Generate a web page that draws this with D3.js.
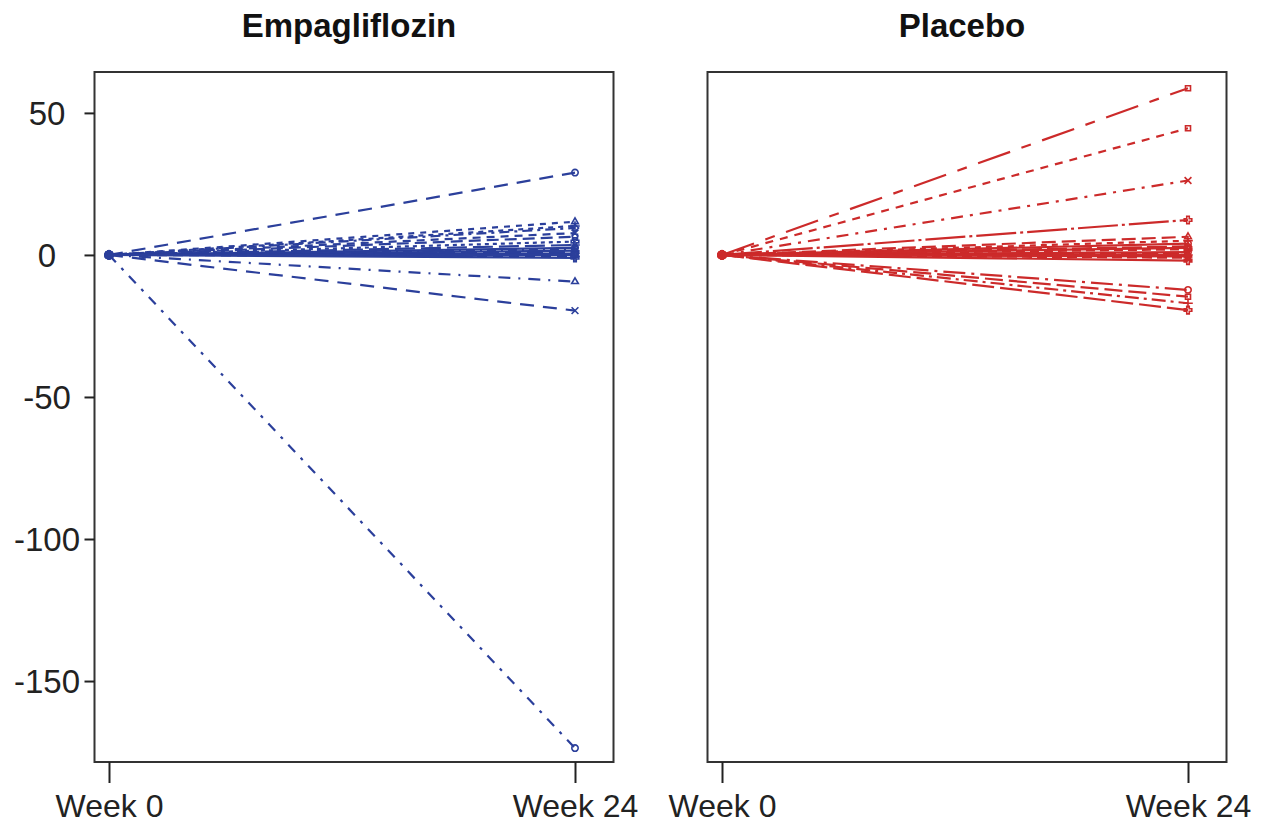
<!DOCTYPE html>
<html>
<head>
<meta charset="utf-8">
<script src="https://cdn.jsdelivr.net/npm/d3@7"></script>
<style>
  body { margin: 0; background: #fff; }
  text { font-family: "Liberation Sans", Arial, sans-serif; }
</style>
</head>
<body>
<svg id="chart" width="1273" height="825"></svg>
<script>
// change from week 0 to week 24, one value per patient
let weeks = [0, 24];
let yTicks = [50, 0, -50, -100, -150];
let empaWeek24 = [29, 11.7, 10.2, 9.5, 7.7, 6.4, 4.7, 3.5, 2.5, 2, 1.5, 1, 0.5, 0, 0, -0.5, -1, -9.4, -19.6, -173.6];
let placeboWeek24 = [58.7, 44.6, 26.2, 12.3, 6.4, 5, 4, 3, 2.5, 2, 1, 0.5, 0, 0, -0.5, -1, -2, -12.3, -14.7, -17, -19.4];

// line patterns + end symbols (styles only)
let empaDash = ['14,9', '6,6', '5,5', '10,5,3,5', '8,6', '12,6', '4,4', '20,6', '', '9,5,2,5', '', '16,6', '', '6,4', '', '10,6', '', '12,8,2,8', '14,9', '10,8,3,8'];
let empaSym = [0, 5, 2, 6, 4, 1, 3, 2, 0, 1, 4, 3, 6, 0, 1, 2, 3, 5, 4, 0];
let placeboDash = ['34,12,10,12', '8,7', '12,7,3,7', '40,4,3,4', '14,6', '6,5', '', '20,5', '', '9,5', '', '16,5', '', '5,4', '', '10,5', '', '22,6,3,6', '18,6', '14,5,3,5', '22,6'];
let placeboSym = [1, 1, 4, 3, 5, 2, 0, 6, 1, 3, 0, 4, 2, 5, 6, 1, 3, 0, 1, 2, 3];

let symbolTypes = [d3.symbolCircle, d3.symbolSquare2, d3.symbolPlus, d3.symbolCross, d3.symbolTimes, d3.symbolTriangle2, d3.symbolDiamond2];

let svg = d3.select('#chart');

let plotTop = 72, plotBottom = 762;
let panelW = 519;

let y = d3.scaleLinear().domain([-178.5, 64.4]).range([plotBottom, plotTop]);

let panels = [
  { title: 'Empagliflozin', vals: empaWeek24, dash: empaDash, sym: empaSym, color: '#2b3f9b', left: 94.5, yAxis: true },
  { title: 'Placebo', vals: placeboWeek24, dash: placeboDash, sym: placeboSym, color: '#cc2a2a', left: 707.5, yAxis: false }
];

panels.forEach(function(p) {
  let x = d3.scaleLinear().domain([0, 24]).range([p.left + 14.5, p.left + panelW - 38.5]);
  let g = svg.append('g');

  let rows = p.vals.map((v, i) => ({ pts: [[0, 0], [24, v]], dash: p.dash[i], sym: p.sym[i] }));

  let line = d3.line().x(d => x(d[0])).y(d => y(d[1]));

  g.selectAll('path.subj')
    .data(rows)
    .enter()
    .append('path')
    .attr('class', 'subj')
    .attr('d', d => line(d.pts))
    .attr('fill', 'none')
    .attr('stroke', p.color)
    .attr('stroke-width', 2.2)
    .attr('stroke-dasharray', d => d.dash || null);

  // end point symbols
  rows.forEach(function(r) {
    r.pts.forEach(function(pt) {
      g.append('path')
        .attr('d', d3.symbol().type(symbolTypes[r.sym]).size(32)())
        .attr('transform', `translate(${x(pt[0])},${y(pt[1])})`)
        .attr('fill', 'none')
        .attr('stroke', p.color)
        .attr('stroke-width', 1.6);
    });
  });

  // frame
  g.append('rect')
    .attr('x', p.left)
    .attr('y', plotTop)
    .attr('width', panelW)
    .attr('height', plotBottom - plotTop)
    .attr('fill', 'none')
    .attr('stroke', '#333')
    .attr('stroke-width', 2);

  let xAxis = g.append('g')
    .attr('transform', `translate(0,${plotBottom})`)
    .call(d3.axisBottom(x).tickValues(weeks).tickSize(21).tickFormat(d => 'Week ' + d));
  xAxis.select('.domain').remove();
  xAxis.selectAll('line').attr('stroke', '#222').attr('stroke-width', 2);
  xAxis.selectAll('text')
    .attr('fill', '#222')
    .attr('y', 55)
    .attr('dy', 0)
    .style('font-size', '32px');

  if (p.yAxis) {
    let yAx = g.append('g')
      .attr('transform', `translate(${p.left},0)`)
      .call(d3.axisLeft(y).tickValues(yTicks).tickSize(10).tickFormat(d => String(d)));
    yAx.select('.domain').remove();
    yAx.selectAll('line').attr('stroke', '#222').attr('stroke-width', 2);
    yAx.selectAll('text')
      .attr('fill', '#222')
      .attr('text-anchor', 'middle')
      .attr('x', 47 - p.left)
      .attr('dy', '0.35em')
      .style('font-size', '33px');
  }

  svg.append('text')
    .attr('x', p.left + panelW / 2 - 5)
    .attr('y', 37)
    .attr('text-anchor', 'middle')
    .attr('font-weight', 'bold')
    .style('font-size', '33px')
    .attr('fill', '#111')
    .text(p.title);
});
</script>
</body>
</html>
